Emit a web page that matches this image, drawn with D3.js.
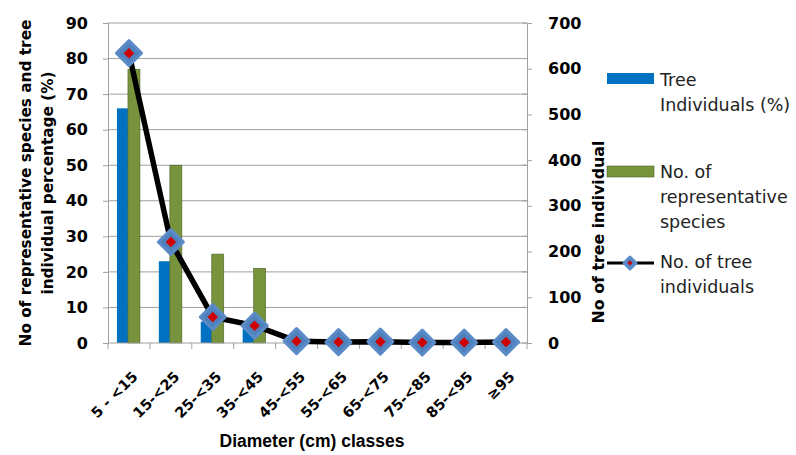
<!DOCTYPE html>
<html><head><meta charset="utf-8">
<script src="https://cdn.jsdelivr.net/npm/d3@7/dist/d3.min.js"></script>
<style>body{margin:0;background:#fff}svg{display:block}</style>
</head><body><svg id="c" width="796" height="455"></svg>
<script>
const categories = ["5 - <15","15-<25","25-<35","35-<45","45-<55","55-<65","65-<75","75-<85","85-<95","≥95"];
const treePct = [66, 23, 6, 4, 0, 0, 0, 0, 0, 0];
const speciesNo = [77, 50, 25, 21, 0.5, 0, 1.3, 0, 0, 0];
const treeNo = [634, 221, 57, 38, 4, 2, 3, 1, 1, 2];
const leftTicks = [0,10,20,30,40,50,60,70,80,90];
const rightTicks = [0,100,200,300,400,500,600,700];

const svg = d3.select("#c");
const L = 108, R = 527, T = 23, B = 343;
const xc = d3.scaleBand().domain(categories).range([L, R]);
const y = d3.scaleLinear().domain([0, 90]).range([B, T]);
const y2 = d3.scaleLinear().domain([0, 700]).range([B, T]);
const tickFont = "DejaVu Sans, Verdana, sans-serif";
const axisCol = "#a0a0a0";

// gridlines
svg.append("g").selectAll("line").data(leftTicks.filter(d => d > 0)).join("line")
  .attr("x1", L).attr("x2", R).attr("y1", d => y(d)).attr("y2", d => y(d))
  .attr("stroke", axisCol).attr("stroke-width", 1);

// left axis
const gl = svg.append("g").attr("transform", `translate(${L},0)`)
  .call(d3.axisLeft(y).tickValues(leftTicks).tickSize(5).tickPadding(15));
gl.select(".domain").attr("stroke", axisCol);
gl.selectAll(".tick line").attr("stroke", axisCol);
gl.selectAll("text").attr("font-family", tickFont).attr("font-weight", "bold").attr("font-size", 16).attr("fill", "#000");

// right axis
const gr = svg.append("g").attr("transform", `translate(${R},0)`)
  .call(d3.axisRight(y2).tickValues(rightTicks).tickSize(5).tickPadding(16));
gr.select(".domain").attr("stroke", axisCol);
gr.selectAll(".tick line").attr("stroke", axisCol);
gr.selectAll("text").attr("font-family", tickFont).attr("font-weight", "bold").attr("font-size", 16).attr("fill", "#000");
svg.append("g").selectAll("line").data(leftTicks).join("line")
  .attr("x1", R - 5).attr("x2", R).attr("y1", d => y(d)).attr("y2", d => y(d))
  .attr("stroke", axisCol);

// bars
svg.append("g").selectAll("rect").data(categories).join("rect")
  .attr("x", d => xc(d) + xc.bandwidth()/2 - 12)
  .attr("width", 11)
  .attr("y", (d, i) => y(treePct[i])).attr("height", (d, i) => B - y(treePct[i]))
  .attr("fill", "#0070C0");
svg.append("g").selectAll("rect").data(categories).join("rect")
  .attr("x", d => xc(d) + xc.bandwidth()/2 - 1)
  .attr("width", 12)
  .attr("y", (d, i) => y(speciesNo[i])).attr("height", (d, i) => B - y(speciesNo[i]))
  .attr("fill", "#77933C").attr("stroke", "#4F6228").attr("stroke-width", 0.6);

// x axis
const gx = svg.append("g").attr("transform", `translate(0,${B})`);
gx.append("line").attr("x1", L).attr("x2", R).attr("stroke", axisCol);
gx.selectAll("line.t").data(d3.range(categories.length + 1)).join("line").attr("class","t")
  .attr("x1", i => L + i * xc.step()).attr("x2", i => L + i * xc.step())
  .attr("y1", 0).attr("y2", 6).attr("stroke", axisCol);
gx.selectAll("text").data(categories).join("text")
  .attr("transform", d => `translate(${xc(d) + xc.bandwidth()/2 + 6},${31}) rotate(-45)`)
  .attr("text-anchor", "end").attr("dy", "0.35em")
  .attr("font-family", tickFont).attr("font-weight", "bold").attr("font-size", 14.5)
  .text(d => d);

// line
const line = d3.line().x((d, i) => xc(categories[i]) + xc.bandwidth()/2).y(d => y2(d));
svg.append("path").datum(treeNo).attr("d", line)
  .attr("fill", "none").attr("stroke", "#000").attr("stroke-width", 5.5).attr("stroke-linejoin", "round");

function marker(g, cx, cy, s) {
  g.append("path").attr("d", `M${cx},${cy - s}L${cx + s},${cy}L${cx},${cy + s}L${cx - s},${cy}Z`)
    .attr("fill", "#4F81BD").attr("stroke", "#5B8CC8").attr("stroke-width", 3).attr("stroke-linejoin", "round");
  const r = s * 0.42;
  g.append("path").attr("d", `M${cx},${cy - r}L${cx + r},${cy}L${cx},${cy + r}L${cx - r},${cy}Z`)
    .attr("fill", "#D00000");
}
const gm = svg.append("g");
treeNo.forEach((v, i) => marker(gm, xc(categories[i]) + xc.bandwidth()/2, y2(v), 12.5));

// axis titles
const titleFont = "DejaVu Sans, Verdana, sans-serif";
const lt = svg.append("text").attr("transform", "translate(31,183) rotate(-90)")
  .attr("text-anchor", "middle").attr("font-family", titleFont).attr("font-weight", "bold").attr("font-size", 15.3);
lt.append("tspan").attr("x", 0).attr("dy", 0).text("No of representative species and tree");
lt.append("tspan").attr("x", 0).attr("dy", 22).text("individual percentage (%)");

svg.append("text").attr("transform", "translate(604,232) rotate(-90)")
  .attr("text-anchor", "middle").attr("font-family", titleFont).attr("font-weight", "bold").attr("font-size", 15.8)
  .text("No of tree individual");

svg.append("text").attr("x", 312).attr("y", 447).attr("text-anchor", "middle")
  .attr("font-family", "Liberation Sans, Arial, sans-serif").attr("font-weight", "bold").attr("font-size", 17.5)
  .text("Diameter (cm) classes");

// legend
const legFont = "DejaVu Sans, Verdana, sans-serif";
const lg = svg.append("g");
function legText(lines, y0) {
  const t = lg.append("text").attr("font-family", legFont).attr("font-size", 17.5).attr("fill", "#222");
  lines.forEach((s, i) => t.append("tspan").attr("x", 660).attr("y", y0 + i * 25).text(s));
}
lg.append("rect").attr("x", 607).attr("y", 73).attr("width", 47).attr("height", 11).attr("fill", "#0070C0");
legText(["Tree", "Individuals (%)"], 86);
lg.append("rect").attr("x", 607).attr("y", 166).attr("width", 47).attr("height", 11).attr("fill", "#77933C").attr("stroke", "#4F6228").attr("stroke-width", 0.6);
legText(["No. of", "representative", "species"], 178);
lg.append("line").attr("x1", 607).attr("x2", 654).attr("y1", 263).attr("y2", 263).attr("stroke", "#000").attr("stroke-width", 3);
marker(lg, 630, 263, 6);
legText(["No. of tree", "individuals"], 268);
</script></body></html>
